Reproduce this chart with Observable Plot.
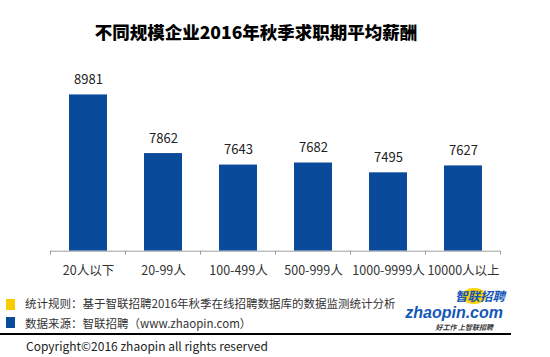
<!DOCTYPE html>
<html>
<head>
<meta charset="utf-8">
<script src="https://cdn.jsdelivr.net/npm/d3@7"></script>
<script src="https://cdn.jsdelivr.net/npm/@observablehq/plot@0.6"></script>
<style>
  html, body { margin: 0; padding: 0; background: #fff; }
  #root { position: relative; width: 550px; height: 357px; overflow: hidden;
          font-family: "Noto Sans CJK SC", "Noto Sans", sans-serif; }
  #title { position: absolute; left: 0; width: 512px; top: 19px; text-align: center;
           font-size: 17.5px; font-weight: 900; color: #000; line-height: 26px; }
  #chart { position: absolute; left: 0; top: 40px; }
  .sq { position: absolute; width: 9px; height: 11px; }
  .ft { position: absolute; font-size: 11.5px; color: #333; white-space: nowrap; line-height: 16px; }
  #rule { position: absolute; left: 0; top: 333px; width: 511px; height: 1.5px; background: #000; }
  .logo { position: absolute; white-space: nowrap; font-style: italic; font-weight: bold; color: #1457b8; line-height: normal; }
</style>
</head>
<body>
<div id="root">
  <div id="title"></div>
  <div id="chart"></div>
  <div class="sq" style="left:6px;top:299px;background:#f8cc00"></div>
  <div class="sq" style="left:6px;top:317px;background:#0a4a9a"></div>
  <div class="ft" id="note1" style="left:25px;top:295px"></div>
  <div class="ft" id="note2" style="left:25px;top:315px"></div>
  <div id="rule"></div>
  <div class="ft" id="copy" style="left:26px;top:338px;color:#222;font-size:12px"></div>
  <div style="position:absolute;left:462px;top:288px;width:24px;height:16px;border-radius:50%;background:#ffd200;"></div>
  <div class="logo" id="logo1" style="right:45px;top:286px;font-size:12.5px"></div>
  <div class="logo" id="logo2" style="right:47px;top:304px;font-size:16px;font-family:'Liberation Sans',Arial,sans-serif"></div>
  <div class="logo" id="logo3" style="right:57px;top:322px;font-size:7px;color:#333"></div>
</div>
<script>
const titleText = "不同规模企业2016年秋季求职期平均薪酬";
const categories = ["20人以下", "20-99人", "100-499人", "500-999人", "1000-9999人", "10000人以上"];
const salaries = [8981, 7862, 7643, 7682, 7495, 7627];
const yDomain = [6000, 10000];
const legendTexts = ["统计规则：基于智联招聘2016年秋季在线招聘数据库的数据监测统计分析", "数据来源：智联招聘（www.zhaopin.com）"];
const copyrightText = "Copyright©2016 zhaopin all rights reserved";
const logoTexts = ["智联招聘", "zhaopin.com", "好工作  上智联招聘"];

document.getElementById("title").textContent = titleText;
document.getElementById("note1").textContent = legendTexts[0];
document.getElementById("note2").textContent = legendTexts[1];
document.getElementById("copy").textContent = copyrightText;
document.getElementById("logo1").textContent = logoTexts[0];
document.getElementById("logo2").textContent = logoTexts[1];
document.getElementById("logo3").textContent = logoTexts[2];

const data = categories.map((c, i) => ({cat: c, value: salaries[i]}));

// tick marks at band boundaries, computed from the x scale
function boundaryTicks(index, scales) {
  const x = scales.x, y = scales.y;
  const step = typeof x.step === "function" ? x.step() : 75;
  const bw = typeof x.bandwidth === "function" ? x.bandwidth() : step / 2;
  const y0 = y(yDomain[0]);
  const g = d3.create("svg:g").attr("stroke", "#a0a0a0").attr("stroke-width", 1);
  const xs = categories.map(c => x(c) + bw / 2 - step / 2);
  xs.push(x(categories[categories.length - 1]) + bw / 2 + step / 2);
  for (const px of xs) {
    g.append("line").attr("x1", px).attr("x2", px).attr("y1", y0).attr("y2", y0 + 4);
  }
  return g.node();
}

const plot = Plot.plot({
  width: 550,
  height: 250,
  marginLeft: 50,
  marginRight: 50,
  marginTop: 1,
  marginBottom: 39.3,
  style: {fontFamily: '"Noto Sans CJK SC", "Noto Sans", sans-serif', background: "transparent"},
  x: {domain: categories, paddingInner: 0.5, paddingOuter: 0.25, axis: null},
  y: {domain: yDomain, axis: null},
  marks: [
    Plot.barY(data, {x: "cat", y1: yDomain[0], y2: "value", fill: "#0a4a9a"}),
    Plot.ruleY([yDomain[0]], {stroke: "#a0a0a0", strokeWidth: 1}),
    boundaryTicks,
    Plot.text(data, {x: "cat", y: "value", text: d => String(d.value), dy: -15, fontSize: 13, fill: "#222"}),
    Plot.text(data, {x: "cat", y: yDomain[0], text: "cat", dy: 20, fontSize: 12.5, fill: "#333"})
  ]
});
document.getElementById("chart").appendChild(plot);
</script>
</body>
</html>
